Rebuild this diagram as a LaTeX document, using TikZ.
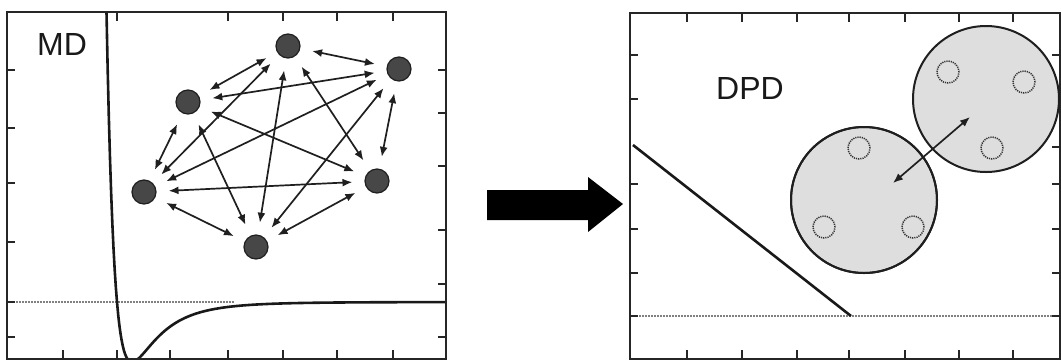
\documentclass[tikz,border=0pt]{standalone}
\usepackage{fontspec}
\setmainfont{Liberation Sans}
\usetikzlibrary{arrows.meta}
\begin{document}
\begin{tikzpicture}[x=1pt,y=-1pt,
  frame/.style={draw=black!85,line width=2.6pt},
  tick/.style={draw=black!85,line width=2.6pt},
  zeroline/.style={draw=black!50,line width=1.3pt,dash pattern=on 1.5pt off 1.5pt},
  atom/.style={circle,fill=black!72,draw=black!88,line width=1.2pt,minimum size=24pt,inner sep=0pt},
  bond/.style={{Latex[length=10pt,width=8pt]}-{Latex[length=10pt,width=8pt]},line width=1.7pt,draw=black!88,shorten <=12pt,shorten >=12pt},
  bead/.style={circle,fill=black!13,draw=black!88,line width=2pt,minimum size=146pt,inner sep=0pt},
  site/.style={circle,draw=black!80,line width=1.5pt,dash pattern=on 1.2pt off 1pt,minimum size=22pt,inner sep=0pt},
  lbl/.style={font=\fontsize{32}{32}\selectfont,inner sep=0pt,text=black!90}]
\useasboundingbox[fill=white] (0,0) rectangle (1061,360);

% ---------- left panel (MD) ----------
\draw[zeroline] (10,302) -- (235,302);
\begin{scope}
  \clip (7,12) rectangle (446,359);
  \draw[line width=2.6pt,black!90] plot[domain=0.905:3.75,samples=300]
    ({-6+123*\x},{302-240*((1/\x)^12-(1/\x)^6)});
\end{scope}
\draw[frame] (7,12) rectangle (446,359);
\foreach \x in {117,228,283,337,393} \draw[tick] (\x,12) -- (\x,21);
\foreach \x in {63,117,170,228,283,337,393} \draw[tick] (\x,359) -- (\x,350);
\foreach \y in {70,128,183,242,302,337} \draw[tick] (7,\y) -- (15,\y);
\foreach \y in {70,113,166,230,284,337} \draw[tick] (446,\y) -- (438,\y);
\node[lbl] (md) at (62,44) {MD};

\node[atom] (A) at (288,46) {};
\node[atom] (B) at (399,69) {};
\node[atom] (C) at (188,102) {};
\node[atom] (D) at (144,192) {};
\node[atom] (E) at (377,181) {};
\node[atom] (F) at (256,247) {};
\foreach \a/\b in {A/B,A/C,A/D,A/E,A/F,B/C,B/D,B/E,B/F,C/D,C/E,C/F,D/E,D/F,E/F}
  \draw[bond] (\a) -- (\b);

% ---------- block arrow ----------
\fill[black] (487,190) -- (588,190) -- (588,177) -- (623,204) -- (588,232) -- (588,220) -- (487,220) -- cycle;

% ---------- right panel (DPD) ----------
\draw[zeroline] (633,316) -- (1058,316);
\draw[line width=2.6pt,black!90] (633,145) -- (851,316);
\draw[frame] (630,13) rectangle (1060,359);
\foreach \x in {687,742,797,849,905,959,1013} {
  \draw[tick] (\x,13) -- (\x,22);
  \draw[tick] (\x,359) -- (\x,350);
}
\foreach \y in {55,99,184,229,273,316} \draw[tick] (630,\y) -- (638,\y);
\foreach \y in {55,99,147,184,229,273,316} \draw[tick] (1060,\y) -- (1052,\y);
\node[lbl] (dpd) at (750,88) {DPD};

\node[bead] (P1) at (864,200) {};
\node[bead] (P2) at (986,99) {};
\draw[black!88,line width=2pt] (P1.center) circle[radius=73pt];
\node[site] (s1) at (859,148) {};
\node[site] (s2) at (824,227) {};
\node[site] (s3) at (913,227) {};
\node[site] (s4) at (948,72) {};
\node[site] (s5) at (1024,82) {};
\node[site] (s6) at (992,148) {};
\coordinate (t1) at (893,183);
\coordinate (t2) at (970,117);
\draw[{Latex[length=10pt,width=8pt]}-{Latex[length=10pt,width=8pt]},line width=1.7pt,black!88] (t1) -- (t2);
\end{tikzpicture}
\end{document}
